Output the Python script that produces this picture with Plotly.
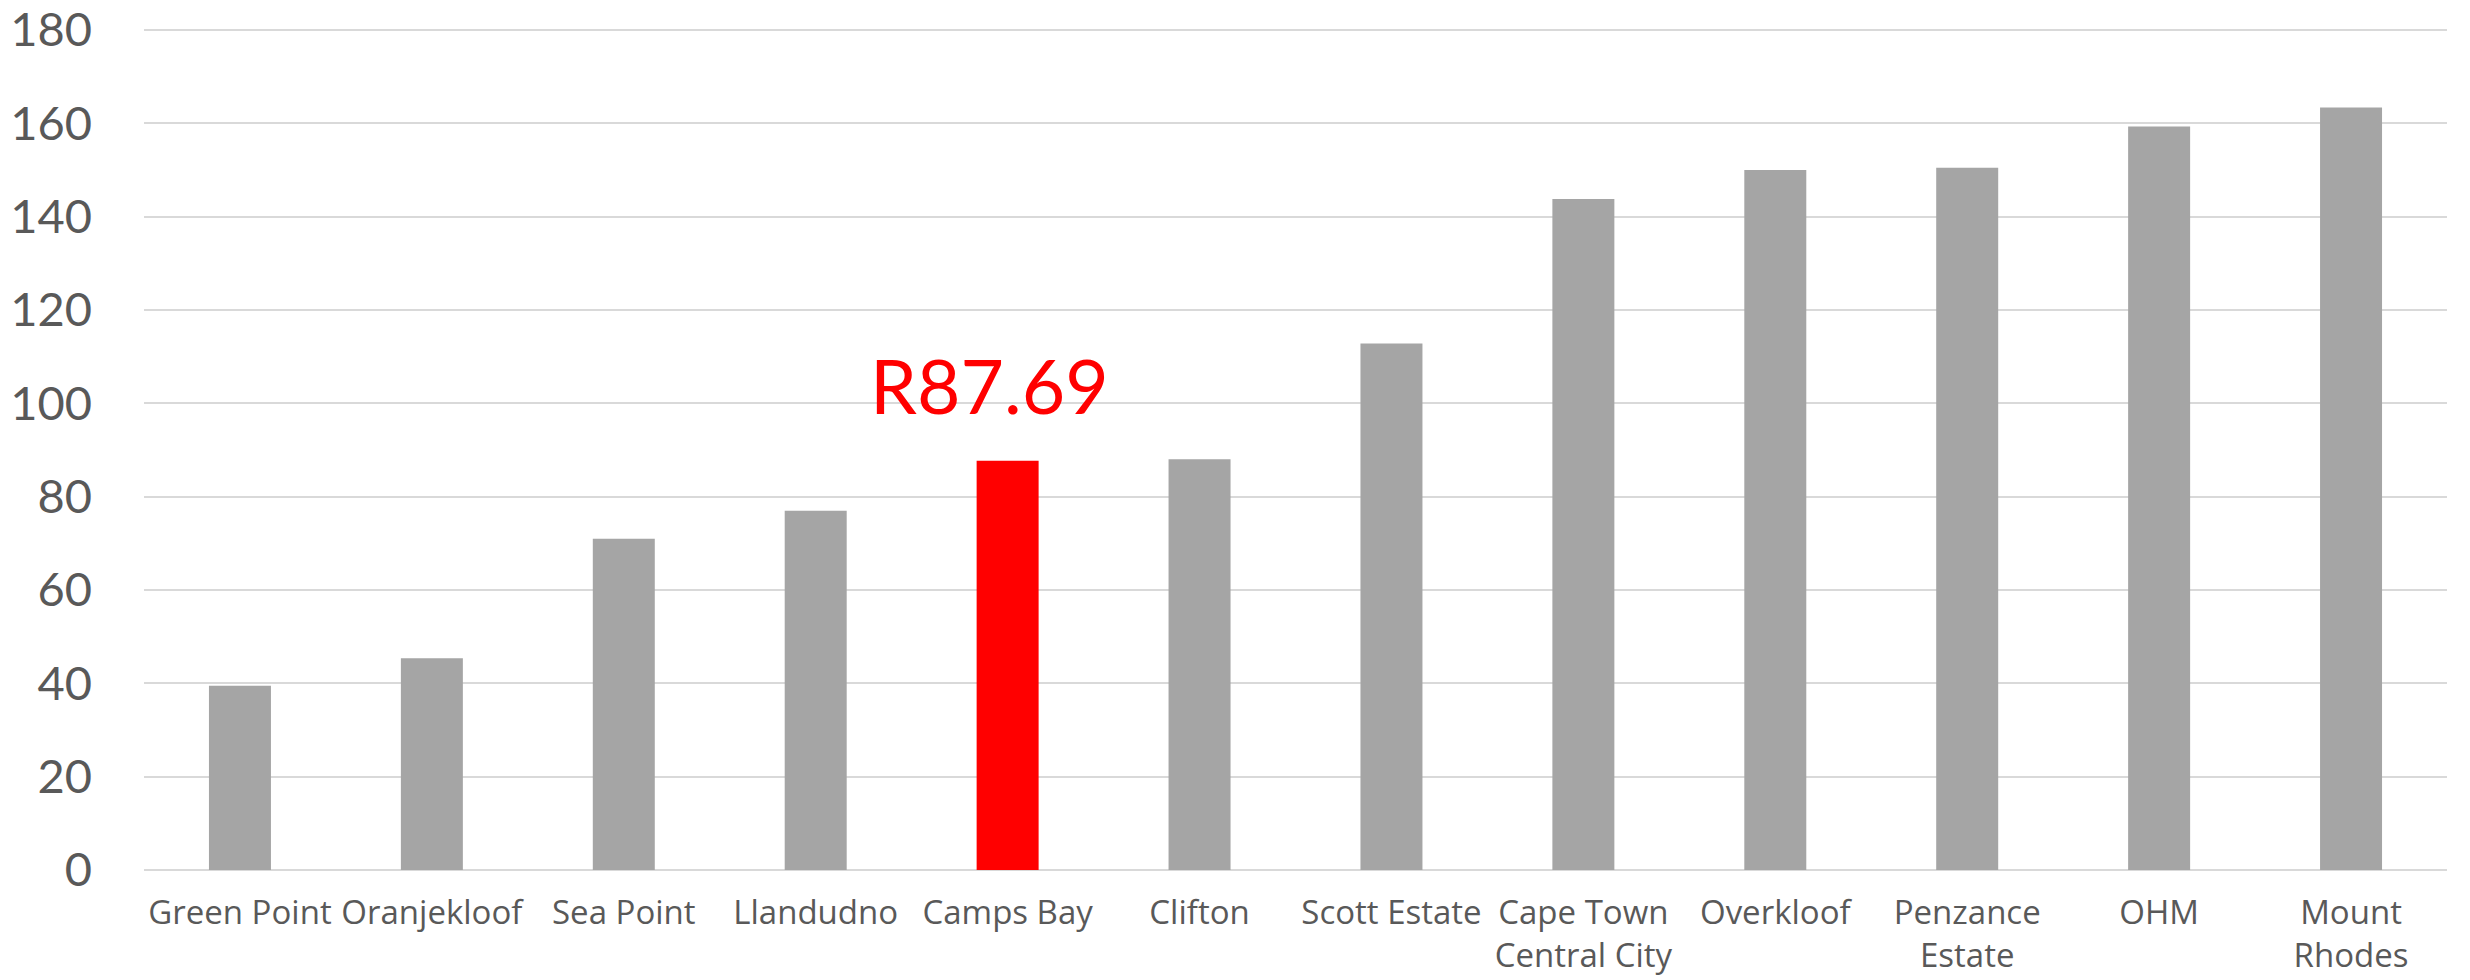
import plotly.graph_objects as go

categories = ["Green Point", "Oranjekloof", "Sea Point", "Llandudno", "Camps Bay",
              "Clifton", "Scott Estate", "Cape Town<br>Central City", "Overkloof",
              "Penzance<br>Estate", "OHM", "Mount<br>Rhodes"]
values = [39.5, 45.4, 71.0, 77.0, 87.69, 88.0, 112.8, 143.8, 150.0, 150.5, 159.3, 163.4]
highlight = "Camps Bay"
highlight_label = "R87.69"
y_ticks = [0, 20, 40, 60, 80, 100, 120, 140, 160, 180]

colors = ["#FF0000" if c == highlight else "#A5A5A5" for c in categories]

fig = go.Figure(go.Bar(
    x=categories, y=values, marker=dict(color=colors, line=dict(width=0)),
    width=0.323, hoverinfo="x+y"))

fig.add_annotation(x=highlight, y=104, text=highlight_label, showarrow=False,
                   xshift=-18, yanchor="middle",
                   font=dict(family="Lato", size=75, color="#FF0000"))

fig.update_layout(
    width=2470, height=980,
    margin=dict(l=144, r=23, t=28, b=110),
    paper_bgcolor="white", plot_bgcolor="white",
    showlegend=False,
    font=dict(family="Lato", color="#595959"),
)
fig.update_xaxes(
    showgrid=False, showline=False, ticks="", automargin=False,
    tickfont=dict(family="Open Sans", size=33, color="#595959"),
    ticklabelstandoff=20,
)
fig.update_yaxes(
    range=[0, 180.43], tickvals=y_ticks, showgrid=True, gridcolor="#D9D9D9", gridwidth=2,
    zeroline=True, zerolinecolor="#D9D9D9", zerolinewidth=2,
    showline=False, ticks="", automargin=False, ticklabeloverflow="allow",
    tickfont=dict(family="Lato", size=47, color="#595959"),
    ticklabelstandoff=51,
)

fig.write_html("out.html",
               config={"displayModeBar": False},
               post_script="document.body.style.margin='0';document.body.style.overflow='hidden';")
